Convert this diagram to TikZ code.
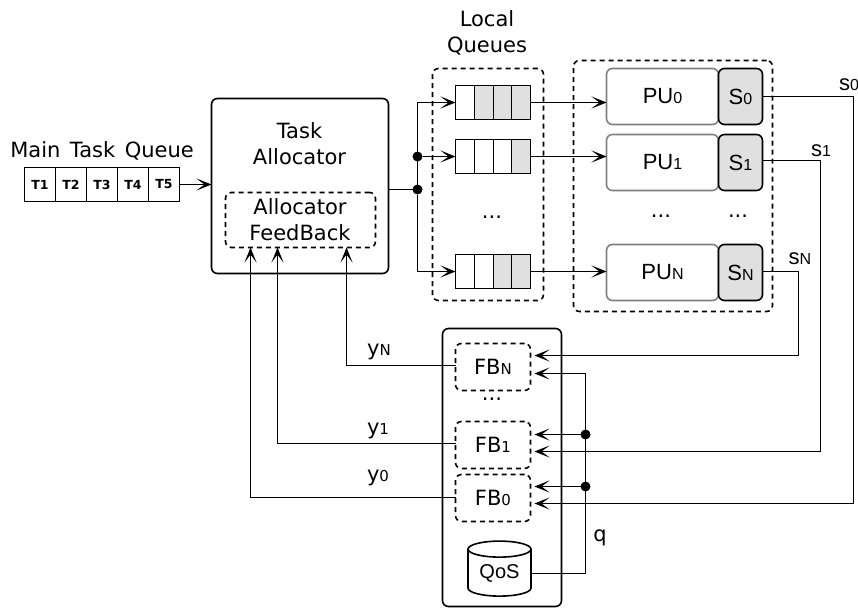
\documentclass[tikz,border=0pt]{standalone}
\usepackage{fontspec}
\setmainfont{DejaVu Sans}
\newfontfamily\helvfont{Liberation Sans}
\usetikzlibrary{arrows.meta,positioning,shapes.geometric}
\definecolor{cellgray}{RGB}{224,224,224}
\newcommand{\smalltxt}[1]{{\fontsize{15}{15}\selectfont #1}}
\newcommand{\smallhelv}[1]{{\helvfont\fontsize{16}{16}\selectfont #1}}
\begin{document}
\begin{tikzpicture}[x=1pt,y=-1pt,>={Stealth[length=15pt,width=12pt,inset=8pt]},line width=1.6pt,
 every node/.style={outer sep=0pt,inner sep=0pt},
 txt/.style={font=\fontsize{21}{26}\selectfont,align=center},
 hv/.style={font=\helvfont\fontsize{22}{26}\selectfont,align=center},
 task/.style={draw,minimum width=31,minimum height=34,font=\bfseries\fontsize{12.5}{14}\selectfont},
 cell/.style={draw,minimum width=19,minimum height=34},
 fullcell/.style={cell,fill=cellgray},
 solid box/.style={draw,rounded corners=6pt},
 dbox/.style={draw,dashed,dash pattern=on 5pt off 4pt,rounded corners=6pt},
 pu/.style={draw=gray,rounded corners=6pt,minimum width=112,minimum height=56,hv},
 sbox/.style={draw,fill=cellgray,rounded corners=6pt,minimum width=44,minimum height=56,hv},
 fbbox/.style={dbox,minimum width=75,minimum height=47,txt},
 dot/.style={circle,fill,minimum size=10},
 a/.style={->},fa/.style={->,shorten >=4pt}]
\useasboundingbox (0,0) rectangle (858,608);
% main queue
\node[txt] (mainlabel) at (102,151) {\spaceskip=9.5pt Main Task Queue};
\node[task] (t1) at (40,184.5) {T1};
\node[task,right=0pt of t1] (t2) {T2};
\node[task,right=0pt of t2] (t3) {T3};
\node[task,right=0pt of t3] (t4) {T4};
\node[task,right=0pt of t4] (t5) {T5};
% allocator
\node[solid box,minimum width=177,minimum height=175] (alloc) at (300,186) {};
\node[txt] (alloctitle) at (299.5,144) {Task\\Allocator};
\node[dbox,minimum width=150,minimum height=55] (afb) at (300.5,220) {};
\node[txt] at (300,219.5) (afbtext) {Allocator\\FeedBack};
% local queues
\node[dbox,minimum width=111,minimum height=232] (lqbox) at (488,184.5) {};
\node[txt] (lqlabel) at (487,32.5) {Local\\Queues};
\node[cell] (q0a) at (465,102.5) {};
\node[fullcell,right=0pt of q0a] (q0b) {};
\node[fullcell,minimum width=18,right=0pt of q0b] (q0c) {};
\node[fullcell,right=0pt of q0c] (q0d) {};
\node[cell] (q1a) at (465,156.5) {};
\node[cell,right=0pt of q1a] (q1b) {};
\node[cell,minimum width=18,right=0pt of q1b] (q1c) {};
\node[fullcell,right=0pt of q1c] (q1d) {};
\node[cell] (qNa) at (465,271.5) {};
\node[cell,right=0pt of qNa] (qNb) {};
\node[fullcell,minimum width=18,right=0pt of qNb] (qNc) {};
\node[fullcell,right=0pt of qNc] (qNd) {};
\node[txt] (qdots) at (492,217) {...};
% processing units
\node[dbox,minimum width=199,minimum height=251] (pubox) at (673,186) {};
\node[pu] (pu0) at (662.5,96.5) {PU\smallhelv{0}};
\node[sbox,right=0pt of pu0] (s0) {S\smallhelv{0}};
\node[pu,below=10pt of pu0] (pu1) {PU\smallhelv{1}};
\node[sbox,right=0pt of pu1] (s1) {S\smallhelv{1}};
\node[pu,below=54pt of pu1] (puN) {PU\smallhelv{N}};
\node[sbox,right=0pt of puN] (sN) {S\smallhelv{N}};
\node[txt] (pudots) at (661,216) {...};
\node[txt] (sdots) at (738,216) {...};
% feedback
\node[solid box,minimum width=119,minimum height=278] (fbbox) at (502,467.5) {};
\node[fbbox] (fbN) at (493,367) {FB\smalltxt{N}};
\node[txt] (fbdots) at (492,399) {...};
\node[fbbox] (fb1) at (493,445) {FB\smalltxt{1}};
\node[fbbox] (fb0) at (493,498) {FB\smalltxt{0}};
\node[draw,cylinder,shape border rotate=90,aspect=0.4,minimum width=63,minimum height=55,font=\helvfont\fontsize{20}{22}\selectfont] (qos) at (499.5,573) {\raisebox{-3pt}{QoS}};
% junctions
\node[dot] (j1) at (417.5,156.5) {};
\node[dot] (j2) at (417.5,189.5) {};
\node[dot] (qdot1) at (585.5,434.5) {};
\node[dot] (qdot0) at (585.5,486.5) {};
\coordinate (s0turn) at (853.5,96.5);
\coordinate (s1turn) at (820.5,160.5);
\coordinate (sNturn) at (798.5,271.5);
\coordinate (fb0s) at (530.5,503.5);
\coordinate (fb1s) at (530.5,451.5);
\coordinate (fbNs) at (530.5,355.5);
\coordinate (fbNq) at (530.5,373.5);
\coordinate (qturn) at (585.5,573.5);
\coordinate (y0turn) at (250.5,497.5);
\coordinate (y1turn) at (277.5,443.5);
\coordinate (yNturn) at (346.5,365.5);
\coordinate (afb0) at (250.5,247.5);
\coordinate (afb1) at (277.5,247.5);
\coordinate (afbN) at (346.5,247.5);
% connectors
\draw[a] (t5.east)--(alloc.west |- t5.east);
\draw (alloc.east |- j2)--(j2);
\draw[a] (j2) |- (q0a.west);\draw[a] (j1)--(q1a.west);\draw[a] (j2) |- (qNa.west);
\draw[a] (q0d.east)--(q0d.east -| pu0.west);\draw[a] (q1d.east)--(q1d.east -| pu1.west);\draw[a] (qNd.east)--(qNd.east -| puN.west);
\draw[fa] (s0.east |- s0turn)--(s0turn) |- (fb0s);
\draw[fa] (s1.east |- s1turn)--(s1turn) |- (fb1s);
\draw[fa] (sN.east |- sNturn)--(sNturn) |- (fbNs);
\draw[a] (fbN.west |- yNturn)--(yNturn)--(afbN);
\draw[a] (fb1.west |- y1turn)--(y1turn)--(afb1);
\draw[a] (fb0.west |- y0turn)--(y0turn)--(afb0);
\draw (qos.east |- qturn)--(qturn);
\draw[fa] (qturn) |- (fbNq);
\draw[fa] (qdot1)--(qdot1 -| fb1.east);\draw[fa] (qdot0)--(qdot0 -| fb0.east);
% labels
\node[hv] (s0label) at (849,85) {s\smallhelv{0}};
\node[hv] (s1label) at (821,151) {s\smallhelv{1}};
\node[hv] (sNlabel) at (800,259) {s\smallhelv{N}};
\node[txt] (yNlabel) at (379,352) {y\smalltxt{N}};
\node[txt] (y1label) at (378,431) {y\smalltxt{1}};
\node[txt] (y0label) at (378,478) {y\smalltxt{0}};
\node[txt] (qlabel) at (600,538) {q};
\end{tikzpicture}
\end{document}
